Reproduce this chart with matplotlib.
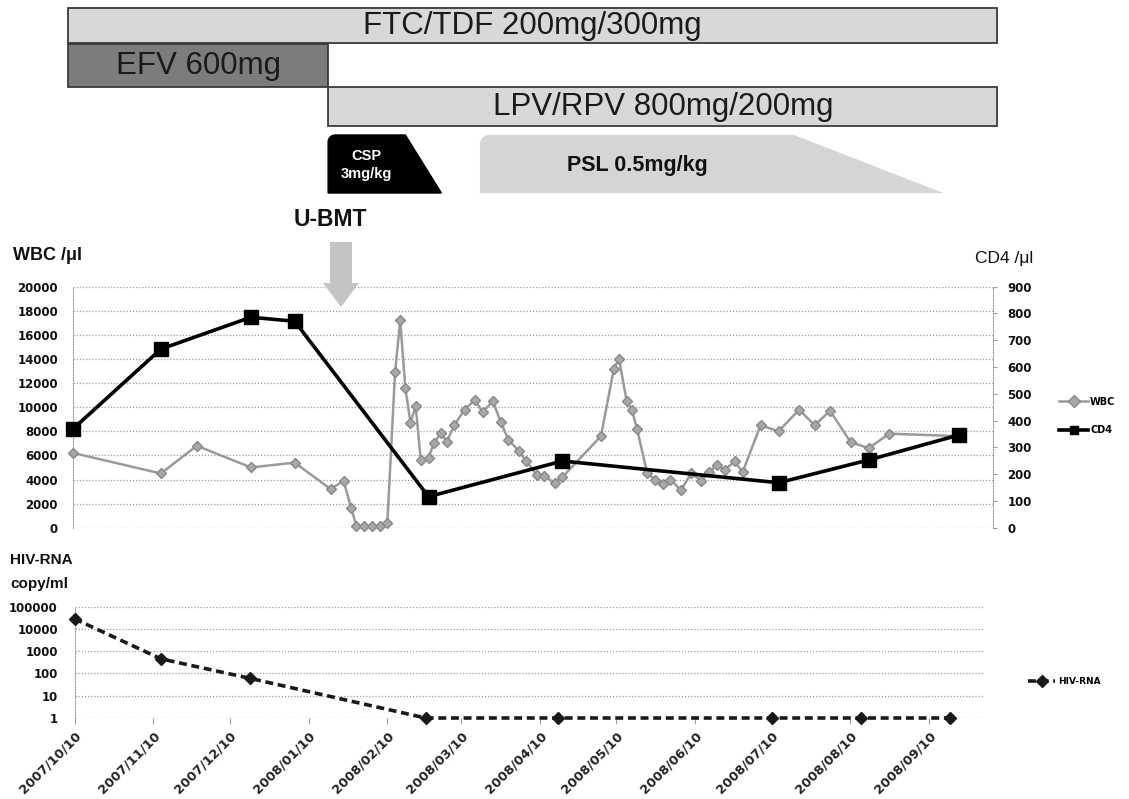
import numpy as np
import matplotlib
matplotlib.use("Agg")
import matplotlib.pyplot as plt
import matplotlib.dates as mdates
from matplotlib.patches import Polygon, Rectangle
import pandas as pd

# ---------------- data ----------------
START = "2007-10-10"

wbc_days = [0, 34, 48, 69, 86, 100, 105, 108, 110, 113, 116, 119, 122, 125, 127, 129, 131,
            133, 135, 138, 140, 143, 145, 148, 152, 156, 159, 163, 166, 169, 173, 176, 180,
            183, 187, 190, 205, 210, 212, 215, 217, 219, 223, 226, 229, 232, 236, 240, 244,
            247, 250, 253, 257, 260, 267, 274, 282, 288, 294, 302, 309, 317, 344]
wbc_vals = [6200, 4500, 6800, 5000, 5400, 3200, 3900, 1600, 150, 100, 100, 100, 400, 12900,
            17200, 11600, 8700, 10100, 5600, 5800, 7000, 7900, 7100, 8500, 9800, 10600, 9600,
            10500, 8800, 7300, 6400, 5500, 4400, 4300, 3700, 4200, 7600, 13200, 14000, 10500,
            9800, 8200, 4500, 4000, 3600, 4000, 3100, 4500, 3900, 4600, 5200, 4800, 5500, 4600,
            8500, 8000, 9800, 8500, 9700, 7100, 6600, 7800, 7600]

cd4_days = [0, 34, 69, 86, 138, 190, 274, 309, 344]
cd4_vals = [370, 667, 786, 771, 116, 249, 168, 253, 346]

hiv_days = [0, 34, 69, 138, 190, 274, 309, 344]
hiv_vals = [28000, 450, 60, 1, 1, 1, 1, 1]

x_tick_labels = ["2007/10/10", "2007/11/10", "2007/12/10", "2008/01/10", "2008/02/10",
                 "2008/03/10", "2008/04/10", "2008/05/10", "2008/06/10", "2008/07/10",
                 "2008/08/10", "2008/09/10"]
x_end = "2008-10-01 10:00"

wbc_ticks = list(range(0, 20001, 2000))
cd4_ticks = list(range(0, 901, 100))
hiv_ticks = [1, 10, 100, 1000, 10000, 100000]
hiv_tick_labels = ["1", "10", "100", "1000", "10000", "100000"]

# treatments (start, end)
ftc_name, ftc_start, ftc_end = "FTC/TDF 200mg/300mg", "2007-10-08", "2008-10-03"
efv_name, efv_start, efv_end = "EFV 600mg", "2007-10-08", "2008-01-17"
lpv_name, lpv_start, lpv_end = "LPV/RPV 800mg/200mg", "2008-01-17", "2008-10-03"
csp_name, csp_start, csp_taper, csp_end = "CSP\n3mg/kg", "2008-01-17", "2008-02-16", "2008-03-01"
psl_name, psl_start, psl_taper, psl_end = "PSL 0.5mg/kg", "2008-03-16", "2008-07-16", "2008-09-12"
bmt_name, bmt_date = "U-BMT", "2008-01-22"

# ---------------- helpers ----------------
t0 = pd.Timestamp(START)
def to_dates(days):
    return [t0 + pd.Timedelta(days=d) for d in days]

wbc_x = to_dates(wbc_days)
cd4_x = to_dates(cd4_days)
hiv_x = to_dates(hiv_days)
tick_x = [pd.Timestamp(s.replace("/", "-")) for s in x_tick_labels]
xmin, xmax = mdates.date2num(t0), mdates.date2num(pd.Timestamp(x_end))

W, H = 1129, 799
fig = plt.figure(figsize=(W / 100, H / 100), dpi=100)

def fax(l, t, r, b):
    return fig.add_axes([l / W, 1 - b / H, (r - l) / W, (b - t) / H])

GRID = "#9c9c9c"
TXT = "#111111"
tick_font = dict(family="DejaVu Sans", weight="bold", size=8.5)

# ---------------- top chart ----------------
ax1 = fax(73.3, 286.7, 993.3, 527.7)
ax2 = ax1.twinx()

l_wbc, = ax1.plot(wbc_x, wbc_vals, color="#9a9a9a", lw=1.8, marker="D", ms=5.5,
                  mfc="#a8a8a8", mec="#888888", clip_on=False, zorder=3, label="WBC")
l_cd4, = ax2.plot(cd4_x, cd4_vals, color="black", lw=2.6, marker="s", ms=9.5,
                  mfc="black", mec="black", clip_on=False, zorder=4, label="CD4")

ax1.set_xlim(xmin, xmax)
ax1.set_ylim(0, 20000)
ax2.set_ylim(0, 900)
ax1.set_yticks(wbc_ticks)
ax2.set_yticks(cd4_ticks)
ax1.set_xticks([])
ax1.grid(axis="y", ls=(0, (1, 1.5)), color=GRID, lw=0.9)
ax1.set_axisbelow(True)
for sp in ["top", "right", "bottom"]:
    ax1.spines[sp].set_visible(False)
ax1.spines["left"].set_linestyle((0, (1, 1.5)))
ax1.spines["left"].set_color(GRID)
for sp in ["top", "left", "bottom"]:
    ax2.spines[sp].set_visible(False)
ax2.spines["right"].set_linestyle((0, (1, 1.5)))
ax2.spines["right"].set_color(GRID)
ax1.tick_params(axis="y", length=0, pad=11, labelcolor=TXT)
ax2.tick_params(axis="y", length=3, color=GRID, pad=7, labelcolor=TXT)
for lab in ax1.get_yticklabels() + ax2.get_yticklabels():
    lab.set(**tick_font)
ax1.tick_params(axis="x", length=0)

leg = ax2.legend([l_wbc, l_cd4], ["WBC", "CD4"], loc="center left",
                 bbox_to_anchor=(1.062, 0.464), frameon=False, handlelength=3.0,
                 labelspacing=1.9, handletextpad=0.2,
                 prop=dict(family="DejaVu Sans", weight="bold", size=7))
for h in leg.legend_handles:
    h.set_markersize(6)

# ---------------- bottom chart ----------------
ax3 = fax(74.5, 606.5, 983.8, 718.0)
l_hiv, = ax3.plot(hiv_x, hiv_vals, color="#1a1a1a", lw=2.6, ls=(0, (2.2, 1.3)),
                  marker="D", ms=6.5, mfc="#1a1a1a", mec="#1a1a1a", clip_on=False,
                  zorder=3, label="HIV-RNA")
ax3.set_yscale("log")
ax3.set_ylim(1, 100000)
ax3.set_xlim(xmin, xmax)
ax3.set_yticks(hiv_ticks)
ax3.set_yticklabels(hiv_tick_labels)
ax3.yaxis.set_minor_locator(matplotlib.ticker.NullLocator())
ax3.set_xticks([mdates.date2num(t) for t in tick_x])
ax3.set_xticklabels(x_tick_labels, rotation=45, ha="right", rotation_mode="anchor")
ax3.grid(axis="y", ls=(0, (1, 1.5)), color=GRID, lw=0.9)
ax3.set_axisbelow(True)
for sp in ["top", "right", "bottom"]:
    ax3.spines[sp].set_visible(False)
ax3.spines["left"].set_linestyle((0, (1, 1.5)))
ax3.spines["left"].set_color(GRID)
ax3.tick_params(axis="y", length=0, pad=12, labelcolor=TXT)
ax3.tick_params(axis="x", length=4, color=GRID, pad=4, labelcolor="#222222")
for lab in ax3.get_yticklabels():
    lab.set(**tick_font)
for lab in ax3.get_xticklabels():
    lab.set(family="DejaVu Sans", weight="bold", size=9.3)

ax3.legend([l_hiv], ["HIV-RNA"], loc="center left", bbox_to_anchor=(1.04, 0.33),
           frameon=False, handlelength=3.0, handletextpad=0.3,
           prop=dict(family="DejaVu Sans", weight="bold", size=6.5))

# ---------------- overlay (treatments, labels) ----------------
ov = fig.add_axes([0, 0, 1, 1])
ov.set_xlim(0, W)
ov.set_ylim(H, 0)
ov.axis("off")
ov.patch.set_visible(False)

def dpx(d):
    return ax1.transData.transform((mdates.date2num(pd.Timestamp(d)), 0))[0]

def rect(x0, x1, y0, y1, fc, ec):
    ov.add_patch(Rectangle((x0, y0), x1 - x0, y1 - y0, fc=fc, ec=ec, lw=1.3, zorder=2))

narrow = ["Liberation Sans", "DejaVu Sans"]

# FTC/TDF
x0, x1 = dpx(ftc_start), dpx(ftc_end)
rect(x0, x1, 8, 43, "#d8d8d8", "#3a3a3a")
ov.text((x0 + x1) / 2, 26, ftc_name, ha="center", va="center", size=22.5,
        family=narrow, color="#1a1a1a", zorder=3)
# EFV
x0, x1 = dpx(efv_start), dpx(efv_end)
rect(x0, x1, 44, 87, "#7c7c7c", "#3a3a3a")
ov.text((x0 + x1) / 2, 66, efv_name, ha="center", va="center", size=22.5,
        family=narrow, color="#1a1a1a", zorder=3)
# LPV/RPV
x0, x1 = dpx(lpv_start), dpx(lpv_end)
rect(x0, x1, 87, 126, "#d8d8d8", "#3a3a3a")
ov.text((x0 + x1) / 2, 107, lpv_name, ha="center", va="center", size=22.5,
        family=narrow, color="#1a1a1a", zorder=3)

def taper_shape(xs, xt, xe, y0, y1, r, **kw):
    th = np.linspace(np.pi, np.pi / 2, 8)
    arc = [(xs + r + r * np.cos(t), y0 + r - r * np.sin(t)) for t in th]
    pts = [(xs, y1)] + arc + [(xt, y0), (xe, y1)]
    ov.add_patch(Polygon(pts, closed=True, **kw))

# CSP
xs, xt, xe = dpx(csp_start), dpx(csp_taper), dpx(csp_end)
taper_shape(xs, xt, xe, 135, 193, 7, fc="black", ec="black", lw=1, zorder=2)
ov.text((xs + xt) / 2, 165, csp_name, ha="center", va="center", size=10.5,
        weight="bold", family=narrow, color="white", linespacing=1.45, zorder=3)
# PSL
xs, xt, xe = dpx(psl_start), dpx(psl_taper), dpx(psl_end)
taper_shape(xs, xt, xe, 135, 193, 9, fc="#d5d5d5", ec="none", zorder=2)
ov.text((xs + xt) / 2, 165, psl_name, ha="center", va="center", size=15.5,
        weight="bold", family=narrow, color="#111111", zorder=3)

# U-BMT arrow
xa = dpx(bmt_date)
ov.text(xa - 11, 219, bmt_name, ha="center", va="center", size=16.5, weight="bold",
        family=narrow, color="#111111")
arrow = [(xa - 11, 242), (xa + 11, 242), (xa + 11, 283), (xa + 18, 283), (xa, 307),
         (xa - 18, 283), (xa - 11, 283)]
ov.add_patch(Polygon(arrow, closed=True, fc="#c4c4c4", ec="none", zorder=2))

# axis titles
ov.text(13, 256, "WBC /μl", ha="left", va="center", size=13, weight="bold",
        family=narrow, color=TXT)
ov.text(975, 259, "CD4 /μl", ha="left", va="center", size=12.5, family=narrow, color=TXT)
ov.text(10, 560, "HIV-RNA", ha="left", va="center", size=11, weight="bold",
        family=narrow, color=TXT)
ov.text(10, 584, "copy/ml", ha="left", va="center", size=11, weight="bold",
        family=narrow, color=TXT)

fig.savefig("out.png", dpi=100, facecolor="white")
